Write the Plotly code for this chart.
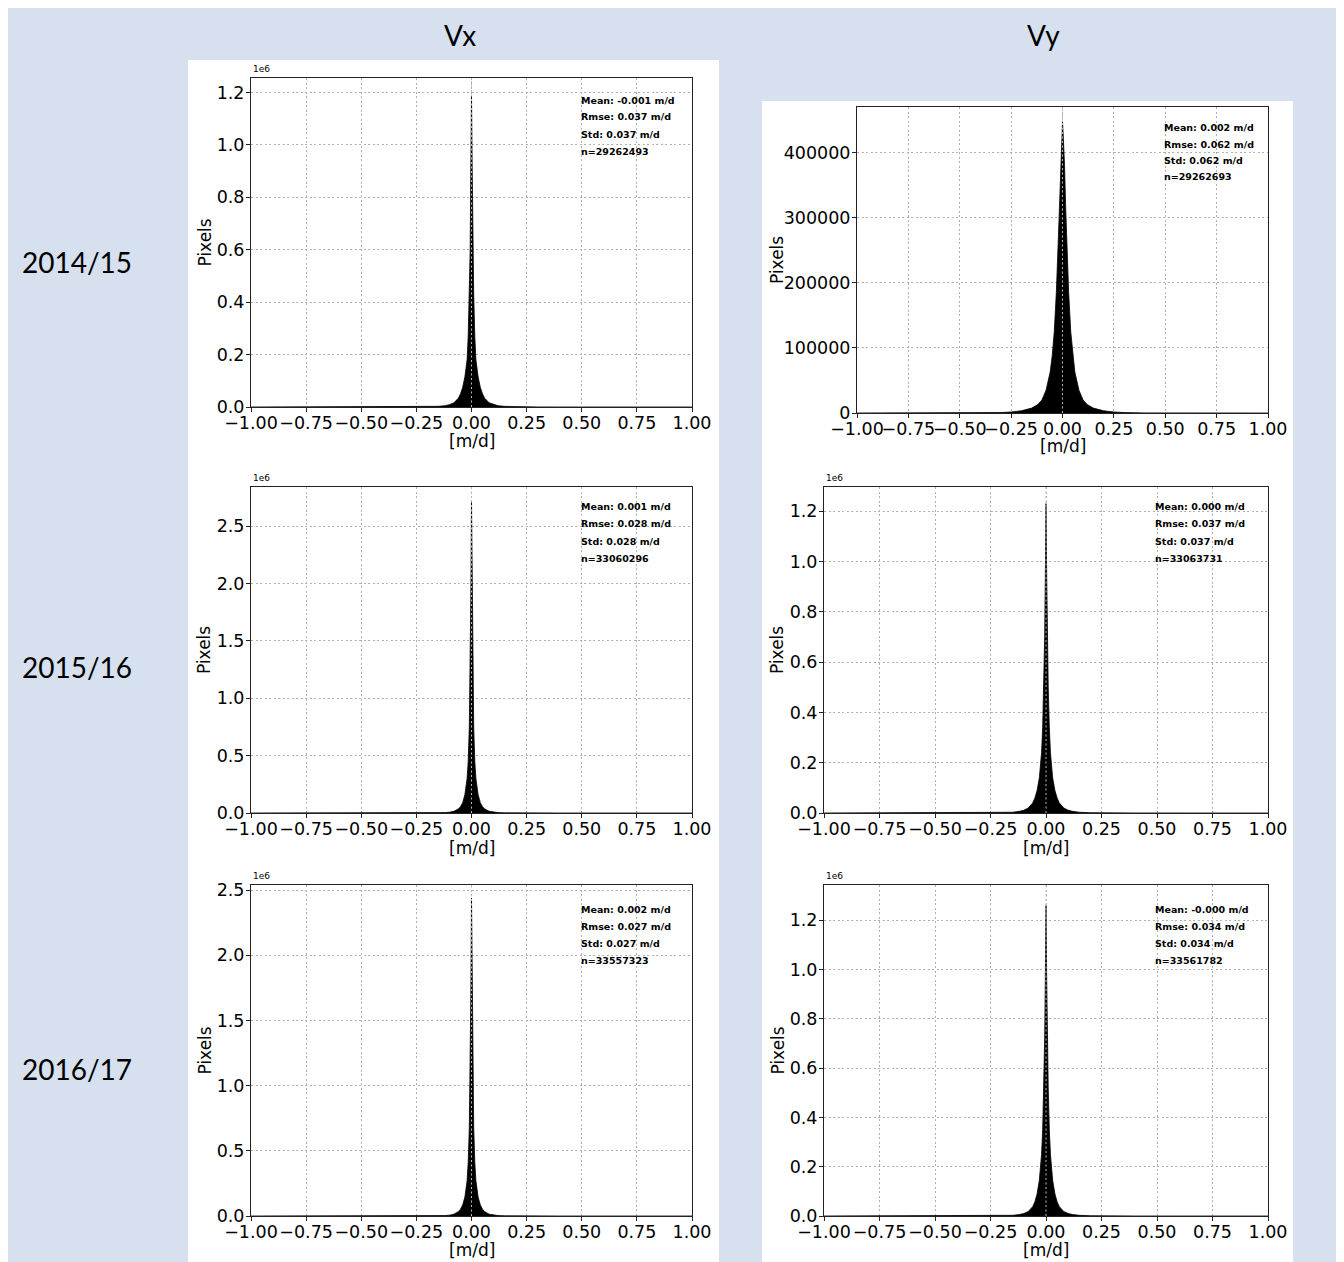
import plotly.graph_objects as go

W, H = 1344, 1262
# the page body adds an 8 px margin; positions below are screen pixels of the target
OFFSET = 8

# ---------------- data ----------------
COLUMNS = ["Vx", "Vy"]
ROWS = ["2014/15", "2015/16", "2016/17"]

# bin positions [m/d] at which the histogram counts were read
X_BINS = [-1.0, -0.4, -0.3, -0.25, -0.2, -0.15, -0.12, -0.1, -0.08, -0.06, -0.05,
          -0.04, -0.03, -0.02, -0.015, -0.01, -0.006, -0.003, 0.0, 0.003, 0.006,
          0.01, 0.015, 0.02, 0.03, 0.04, 0.05, 0.06, 0.08, 0.1, 0.12, 0.15, 0.2,
          0.25, 0.3, 0.4, 1.0]

COUNTS_1415_VX = [0, 50, 200, 400, 1000, 2500, 5000, 9000, 16000, 33000, 50000,
                  75000, 115000, 180000, 270000, 430000, 600000, 920000, 1190000,
                  920000, 600000, 430000, 270000, 180000, 115000, 75000, 50000,
                  33000, 16000, 9000, 5000, 2500, 1000, 400, 200, 50, 0]
COUNTS_1415_VY = [0, 150, 700, 1500, 3500, 7500, 13000, 20000, 35000, 63000, 88000,
                  125000, 185000, 270000, 320000, 380000, 412000, 430000, 447000,
                  430000, 412000, 380000, 320000, 270000, 185000, 125000, 88000,
                  63000, 35000, 20000, 13000, 7500, 3500, 1500, 700, 150, 0]
COUNTS_1516_VX = [0, 30, 100, 200, 500, 1500, 3500, 7000, 15000, 35000, 55000,
                  90000, 160000, 300000, 450000, 750000, 1200000, 1900000, 2720000,
                  1900000, 1200000, 750000, 450000, 300000, 160000, 90000, 55000,
                  35000, 15000, 7000, 3500, 1500, 500, 200, 100, 30, 0]
COUNTS_1516_VY = [0, 60, 250, 500, 1200, 3000, 6500, 11000, 20000, 40000, 60000,
                  90000, 140000, 240000, 340000, 500000, 700000, 950000, 1230000,
                  950000, 700000, 500000, 340000, 240000, 140000, 90000, 60000,
                  40000, 20000, 11000, 6500, 3000, 1200, 500, 250, 60, 0]
COUNTS_1617_VX = [0, 25, 90, 180, 450, 1400, 3300, 6500, 14000, 33000, 52000,
                  85000, 145000, 270000, 410000, 680000, 1100000, 1700000, 2440000,
                  1700000, 1100000, 680000, 410000, 270000, 145000, 85000, 52000,
                  33000, 14000, 6500, 3300, 1400, 450, 180, 90, 25, 0]
COUNTS_1617_VY = [0, 50, 220, 450, 1100, 2800, 6000, 10000, 18000, 38000, 58000,
                  90000, 145000, 250000, 350000, 520000, 720000, 970000, 1260000,
                  970000, 720000, 520000, 350000, 250000, 145000, 90000, 58000,
                  38000, 18000, 10000, 6000, 2800, 1100, 450, 220, 50, 0]

MEAN_TXT = ["-0.001", "0.002", "0.001", "0.000", "0.002", "-0.000"]
RMSE_TXT = ["0.037", "0.062", "0.028", "0.037", "0.027", "0.034"]
STD_TXT = ["0.037", "0.062", "0.028", "0.037", "0.027", "0.034"]
N_TXT = ["29262493", "29262693", "33060296", "33063731", "33557323", "33561782"]

X_TICKS = [-1.0, -0.75, -0.5, -0.25, 0.0, 0.25, 0.5, 0.75, 1.0]
X_TICK_TEXT = ["−1.00", "−0.75", "−0.50", "−0.25", "0.00", "0.25", "0.50", "0.75", "1.00"]

Y_TICKS_E6_SMALL = [0, 200000, 400000, 600000, 800000, 1000000, 1200000]
Y_TEXT_E6_SMALL = ["0.0", "0.2", "0.4", "0.6", "0.8", "1.0", "1.2"]
Y_TICKS_E6_BIG = [0, 500000, 1000000, 1500000, 2000000, 2500000]
Y_TEXT_E6_BIG = ["0.0", "0.5", "1.0", "1.5", "2.0", "2.5"]
Y_TICKS_PLAIN = [0, 100000, 200000, 300000, 400000]
Y_TEXT_PLAIN = ["0", "100000", "200000", "300000", "400000"]

# ---------------- layout (pixels) ----------------
COUNTS = [COUNTS_1415_VX, COUNTS_1415_VY, COUNTS_1516_VX,
          COUNTS_1516_VY, COUNTS_1617_VX, COUNTS_1617_VY]
Y_MAX = [1255000, 470000, 2840000, 1296000, 2540000, 1343000]
Y_TICKSETS = [(Y_TICKS_E6_SMALL, Y_TEXT_E6_SMALL, True), (Y_TICKS_PLAIN, Y_TEXT_PLAIN, False),
              (Y_TICKS_E6_BIG, Y_TEXT_E6_BIG, True), (Y_TICKS_E6_SMALL, Y_TEXT_E6_SMALL, True),
              (Y_TICKS_E6_BIG, Y_TEXT_E6_BIG, True), (Y_TICKS_E6_SMALL, Y_TEXT_E6_SMALL, True)]
# plot frames: left, top, right, bottom
FRAMES = [(251, 78, 692, 407), (857, 107, 1268, 413),
          (251, 487, 692, 813), (824, 487, 1268, 813),
          (251, 885, 692, 1216), (824, 885, 1268, 1216)]
# white cards
CARDS = [(188, 60, 719, 459), (762, 101, 1293, 462),
         (188, 467, 719, 865), (762, 467, 1293, 865),
         (188, 869, 719, 1262), (762, 869, 1293, 1262)]
STAT_POS = [(579, 100, 17), (1162, 128, 16), (579, 507, 17),
            (1153, 507, 17), (579, 909, 17), (1153, 909, 17)]
PIXELS_X = [204, 777, 204, 777, 204, 777]
XLABEL_Y = [441, 446, 848, 848, 1250, 1250]

BG_BLUE = "rgb(214,224,238)"
TICK_FONT = dict(family="DejaVu Sans", size=17.5, color="black")


def px(x):
    return (x - OFFSET) / W


def py(y):
    return 1 - (y - OFFSET) / H


fig = go.Figure()
layout = dict(
    width=W, height=H, autosize=False,
    margin=dict(l=0, r=0, t=0, b=0, pad=0, autoexpand=False),
    paper_bgcolor="white", plot_bgcolor="white", showlegend=False,
)
shapes = [dict(type="rect", xref="paper", yref="paper", x0=px(3), x1=px(1340),
               y0=py(1270), y1=py(8), fillcolor=BG_BLUE, line=dict(width=0), layer="below")]
for (x0, y0, x1, y1) in CARDS:
    shapes.append(dict(type="rect", xref="paper", yref="paper", x0=px(x0), x1=px(x1),
                       y0=py(y1 + 8), y1=py(y0), fillcolor="white", line=dict(width=0),
                       layer="below"))
annotations = []

for i in range(6):
    ax = "" if i == 0 else str(i + 1)
    fig.add_trace(go.Scatter(
        x=X_BINS, y=COUNTS[i], xaxis="x" + ax, yaxis="y" + ax,
        mode="lines", fill="tozeroy", fillcolor="black",
        line=dict(color="black", width=0.8), hoverinfo="skip", showlegend=False))
    fx0, fy0, fx1, fy1 = FRAMES[i]
    tv, tt, e6 = Y_TICKSETS[i]
    common = dict(showgrid=True, gridcolor="#b0b0b0", griddash="2px,2.5px", gridwidth=1,
                  showline=True, mirror=True, linecolor="#222", linewidth=1,
                  ticks="outside", ticklen=4, tickwidth=1, tickcolor="#222",
                  tickfont=TICK_FONT, zeroline=False, fixedrange=True, automargin=False)
    layout["xaxis" + ax] = dict(domain=[px(fx0), px(fx1)], anchor="y" + ax,
                                range=[-1, 1], tickvals=X_TICKS, ticktext=X_TICK_TEXT,
                                tickangle=0, ticklabelstandoff=-4, **common)
    layout["yaxis" + ax] = dict(domain=[py(fy1), py(fy0)], anchor="x" + ax,
                                range=[0, Y_MAX[i]], tickvals=tv, ticktext=tt,
                                ticklabelstandoff=-2, **common)
    # grid line at x = 0 redrawn above the bars (matplotlib draws grid over patches)
    shapes.append(dict(type="line", xref="x" + ax, yref="y" + ax + " domain",
                       x0=X_TICKS[4], x1=X_TICKS[4], y0=0, y1=1, layer="above",
                       line=dict(color="#b8b8b8", width=1, dash="2px,2.5px")))
    if e6:
        annotations.append(dict(text="1e6", xref="paper", yref="paper", x=px(fx0),
                                y=py(fy0 - 2), xanchor="left", yanchor="bottom",
                                showarrow=False, font=dict(family="DejaVu Sans", size=9, color="black")))
    sx, sy, sd = STAT_POS[i]
    lines = [f"Mean: {MEAN_TXT[i]} m/d", f"Rmse: {RMSE_TXT[i]} m/d",
             f"Std: {STD_TXT[i]} m/d", f"n={N_TXT[i]}"]
    for k, t in enumerate(lines):
        annotations.append(dict(text=t, xref="paper", yref="paper", x=px(sx),
                                y=py(sy + k * sd), xanchor="left", yanchor="middle",
                                showarrow=False,
                                font=dict(family="DejaVu Sans", size=9.5, color="black", weight=700)))
    annotations.append(dict(text="Pixels", xref="paper", yref="paper", x=px(PIXELS_X[i]),
                            y=py((fy0 + fy1) / 2), xanchor="center", yanchor="middle",
                            textangle=-90, showarrow=False,
                            font=dict(family="DejaVu Sans", size=17, color="black")))
    annotations.append(dict(text="[m/d]", xref="paper", yref="paper", x=px((fx0 + fx1) / 2),
                            y=py(XLABEL_Y[i]), xanchor="center", yanchor="middle",
                            showarrow=False,
                            font=dict(family="DejaVu Sans", size=17, color="black")))

HEADER_FONT = dict(family="Lato", size=28, color="black")
for name, cx in zip(COLUMNS, [460, 1043]):
    annotations.append(dict(text=name, xref="paper", yref="paper", x=px(cx), y=py(35),
                            xanchor="center", yanchor="middle", showarrow=False, font=HEADER_FONT))
for name, cy in zip(ROWS, [262, 667, 1069]):
    annotations.append(dict(text=name, xref="paper", yref="paper", x=px(77), y=py(cy),
                            xanchor="center", yanchor="middle", showarrow=False, font=HEADER_FONT))

layout["shapes"] = shapes
layout["annotations"] = annotations
fig.update_layout(**layout)
fig.write_html("out.html")
